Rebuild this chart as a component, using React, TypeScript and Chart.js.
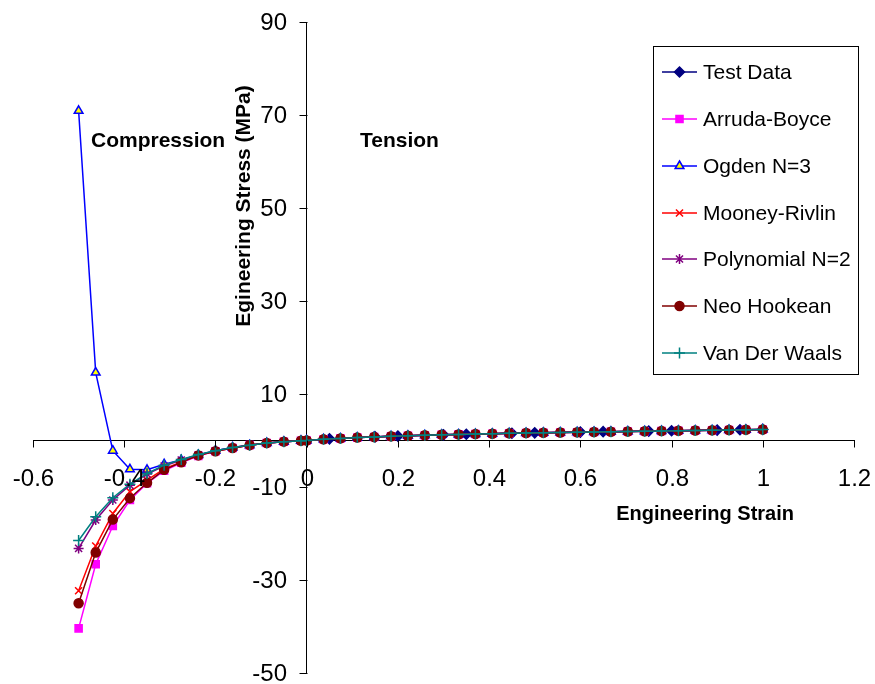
import React, { useEffect, useRef } from 'react';
import { Chart, registerables } from 'chart.js';

Chart.register(...registerables);

// ---------- data ----------
const xTicks = [-0.6, -0.4, -0.2, 0, 0.2, 0.4, 0.6, 0.8, 1.0, 1.2];
const xTickLabels = ['-0.6', '-0.4', '-0.2', '0', '0.2', '0.4', '0.6', '0.8', '1', '1.2'];
const yTicks = [-50, -30, -10, 10, 30, 50, 70, 90];
const yTickLabels = ['-50', '-30', '-10', '10', '30', '50', '70', '90'];

const compStrain = [-0.5, -0.4625, -0.425, -0.3875, -0.35, -0.3125, -0.275, -0.2375, -0.2, -0.1625, -0.125, -0.0875, -0.05, -0.0125];
const tensStrain = [0, 0.037, 0.074, 0.111, 0.148, 0.185, 0.222, 0.259, 0.296, 0.333, 0.37, 0.407, 0.444, 0.481, 0.519, 0.556, 0.593, 0.63, 0.667, 0.704, 0.741, 0.778, 0.815, 0.852, 0.889, 0.926, 0.963, 1.0];
const tensStress = [0, 0.25, 0.45, 0.62, 0.77, 0.9, 1.02, 1.12, 1.22, 1.31, 1.39, 1.47, 1.54, 1.61, 1.67, 1.73, 1.79, 1.84, 1.9, 1.95, 2.0, 2.05, 2.1, 2.15, 2.2, 2.25, 2.3, 2.35];

const testStrain = [0, 0.05, 0.15, 0.2, 0.3, 0.35, 0.45, 0.5, 0.6, 0.65, 0.75, 0.8, 0.9, 0.95, 1.0];
const testStress = [0, 0.35, 0.78, 0.95, 1.22, 1.35, 1.55, 1.64, 1.81, 1.9, 2.02, 2.1, 2.24, 2.3, 2.38];

const arrudaComp = [-40.4, -26.6, -18.4, -12.8, -9.2, -6.5, -4.8, -3.3, -2.3, -1.6, -1.0, -0.55, -0.25, -0.05];
const ogdenComp = [70.9, 14.6, -2.2, -6.2, -6.3, -5.1, -4.2, -3.1, -2.2, -1.5, -1.0, -0.55, -0.25, -0.05];
const mooneyComp = [-32.3, -22.7, -15.7, -11.0, -8.5, -6.1, -4.6, -3.2, -2.3, -1.6, -1.0, -0.55, -0.25, -0.05];
const polyComp = [-23.2, -17.1, -12.8, -9.6, -7.2, -5.5, -4.2, -3.1, -2.2, -1.5, -1.0, -0.55, -0.25, -0.05];
const neoComp = [-35.0, -24.1, -17.0, -12.4, -9.1, -6.3, -4.7, -3.2, -2.3, -1.6, -1.0, -0.55, -0.25, -0.05];
const vdwComp = [-21.5, -16.4, -12.3, -9.4, -7.1, -5.3, -4.1, -3.0, -2.2, -1.5, -1.0, -0.55, -0.25, -0.05];

const seriesNames = ['Test Data', 'Arruda-Boyce', 'Ogden N=3', 'Mooney-Rivlin', 'Polynomial N=2', 'Neo Hookean', 'Van Der Waals'];

const FONT = '"Liberation Sans", Arial, sans-serif';

type Style = { color: string; fill: string; marker: string; radius: number };
const styles: Style[] = [
  { color: '#000080', fill: '#000080', marker: 'rectRot', radius: 5 },
  { color: '#FF00FF', fill: '#FF00FF', marker: 'rect', radius: 5 },
  { color: '#0000FF', fill: '#FFFF00', marker: 'triangle', radius: 5 },
  { color: '#FF0000', fill: '#FF0000', marker: 'crossRot', radius: 5 },
  { color: '#800080', fill: '#800080', marker: 'star', radius: 5 },
  { color: '#800000', fill: '#800000', marker: 'circle', radius: 4.5 },
  { color: '#008080', fill: '#008080', marker: 'cross', radius: 5.5 },
];

function toPoints(xs: number[], ys: number[]) {
  return xs.map((x, i) => ({ x, y: ys[i] }));
}

function drawMarker(ctx: CanvasRenderingContext2D, s: Style, x: number, y: number) {
  const r = s.radius;
  ctx.save();
  ctx.strokeStyle = s.color;
  ctx.fillStyle = s.fill;
  ctx.lineWidth = 1.5;
  ctx.beginPath();
  switch (s.marker) {
    case 'rectRot':
      ctx.moveTo(x, y - r); ctx.lineTo(x + r, y); ctx.lineTo(x, y + r); ctx.lineTo(x - r, y); ctx.closePath();
      ctx.fill(); ctx.stroke();
      break;
    case 'rect': {
      const h = r * Math.SQRT1_2;
      ctx.rect(x - h, y - h, 2 * h, 2 * h); ctx.fill(); ctx.stroke();
      break;
    }
    case 'triangle':
      ctx.moveTo(x, y - r); ctx.lineTo(x + r * 0.87, y + r * 0.5); ctx.lineTo(x - r * 0.87, y + r * 0.5); ctx.closePath();
      ctx.fill(); ctx.stroke();
      break;
    case 'circle':
      ctx.arc(x, y, r, 0, Math.PI * 2); ctx.fill(); ctx.stroke();
      break;
    case 'crossRot': {
      const h = r * Math.SQRT1_2;
      ctx.moveTo(x - h, y - h); ctx.lineTo(x + h, y + h); ctx.moveTo(x + h, y - h); ctx.lineTo(x - h, y + h); ctx.stroke();
      break;
    }
    case 'cross':
      ctx.moveTo(x, y - r); ctx.lineTo(x, y + r); ctx.moveTo(x - r, y); ctx.lineTo(x + r, y); ctx.stroke();
      break;
    case 'star': {
      const h = r * Math.SQRT1_2;
      ctx.moveTo(x, y - r); ctx.lineTo(x, y + r); ctx.moveTo(x - h, y - h); ctx.lineTo(x + h, y + h); ctx.moveTo(x + h, y - h); ctx.lineTo(x - h, y + h);
      ctx.stroke();
      break;
    }
  }
  ctx.restore();
}

// tick marks and tick labels of both crossing axes, placed through the library's scales
const axisLabelPlugin = {
  id: 'axisLabels',
  afterDraw(chart: any) {
    const ctx: CanvasRenderingContext2D = chart.ctx;
    const xs = chart.scales.x;
    const ys = chart.scales.y;
    const ax = Math.round(xs.getPixelForValue(0)) + 0.5;
    const ay = Math.round(ys.getPixelForValue(0)) + 0.5;
    ctx.save();
    ctx.strokeStyle = '#000';
    ctx.lineWidth = 1;
    ctx.fillStyle = '#000';
    ctx.font = `24px ${FONT}`;
    ctx.textAlign = 'right';
    ctx.textBaseline = 'middle';
    yTicks.forEach((v, i) => {
      const py = Math.round(ys.getPixelForValue(v)) + 0.5;
      ctx.beginPath();
      ctx.moveTo(ax - 8, py);
      ctx.lineTo(ax, py);
      ctx.stroke();
      ctx.fillText(yTickLabels[i], ax - 20.5, py + 1);
    });
    ctx.textAlign = 'center';
    xTicks.forEach((v, i) => {
      const px = Math.round(xs.getPixelForValue(v)) + 0.5;
      ctx.beginPath();
      ctx.moveTo(px, ay);
      ctx.lineTo(px, ay + 7);
      ctx.stroke();
      ctx.fillText(xTickLabels[i], px, ay + 39);
    });
    ctx.restore();
  },
};

const annotationPlugin = {
  id: 'annotations',
  afterDraw(chart: any) {
    const ctx: CanvasRenderingContext2D = chart.ctx;
    ctx.save();
    ctx.fillStyle = '#000';
    ctx.font = `bold 21px ${FONT}`;
    ctx.textBaseline = 'middle';
    ctx.textAlign = 'left';
    ctx.fillText('Compression', 91, 141);
    ctx.fillText('Tension', 360, 141);
    ctx.font = `bold 20px ${FONT}`;
    ctx.textAlign = 'right';
    ctx.fillText('Engineering Strain', 794, 514);
    ctx.font = `bold 21px ${FONT}`;
    ctx.save();
    ctx.translate(244, 206);
    ctx.rotate(-Math.PI / 2);
    ctx.textAlign = 'center';
    ctx.fillText('Egineering Stress (MPa)', 0, 0);
    ctx.restore();

    // legend
    const bx = 653.5, by = 46.5, bw = 205, bh = 328;
    ctx.fillStyle = '#fff';
    ctx.fillRect(bx, by, bw, bh);
    ctx.strokeStyle = '#000';
    ctx.lineWidth = 1;
    ctx.strokeRect(bx, by, bw, bh);
    const rowY = [72, 119, 166, 213, 259, 306, 353];
    ctx.font = `21px ${FONT}`;
    ctx.textAlign = 'left';
    ctx.textBaseline = 'middle';
    seriesNames.forEach((name, i) => {
      const s = styles[i];
      const y = rowY[i];
      ctx.strokeStyle = s.color;
      ctx.lineWidth = 1.5;
      ctx.beginPath();
      ctx.moveTo(662, y);
      ctx.lineTo(697, y);
      ctx.stroke();
      drawMarker(ctx, s, 679.5, y);
      ctx.fillStyle = '#000';
      ctx.fillText(name, 703, y + 1);
    });
    ctx.restore();
  },
};

export default function App() {
  const ref = useRef<HTMLCanvasElement>(null);
  useEffect(() => {
    if (!ref.current) return;
    const modelComp = [arrudaComp, ogdenComp, mooneyComp, polyComp, neoComp, vdwComp];
    const datasets: any[] = [];
    seriesNames.forEach((name, i) => {
      const s = styles[i];
      const data = i === 0
        ? toPoints(testStrain, testStress)
        : toPoints([...compStrain, ...tensStrain], [...modelComp[i - 1], ...tensStress]);
      datasets.push({
        label: name,
        data,
        borderColor: s.color,
        backgroundColor: s.fill,
        pointBackgroundColor: s.fill,
        pointBorderColor: s.color,
        pointStyle: s.marker,
        pointRadius: s.radius,
        pointBorderWidth: 1.5,
        borderWidth: 1.5,
        showLine: true,
        tension: 0,
        order: 7 - i,
      });
    });
    const chart = new Chart(ref.current, {
      type: 'scatter',
      data: { datasets },
      options: {
        animation: false,
        responsive: false,
        events: [],
        layout: { padding: { left: 33, right: 21, top: 22, bottom: 11 } },
        plugins: { legend: { display: false }, tooltip: { enabled: false } },
        scales: {
          x: {
            type: 'linear',
            min: -0.6,
            max: 1.2,
            position: { y: 0 } as any,
            afterBuildTicks: (axis: any) => { axis.ticks = xTicks.map((v) => ({ value: v })); },
            grid: { drawOnChartArea: false, drawTicks: false },
            border: { color: '#000', width: 1 },
            ticks: { display: false },
          },
          y: {
            type: 'linear',
            min: -50,
            max: 90,
            position: { x: 0 } as any,
            afterBuildTicks: (axis: any) => { axis.ticks = yTicks.map((v) => ({ value: v })); },
            grid: { drawOnChartArea: false, drawTicks: false },
            border: { color: '#000', width: 1 },
            ticks: { display: false },
          },
        },
      },
      plugins: [axisLabelPlugin, annotationPlugin],
    });
    return () => chart.destroy();
  }, []);
  return (
    <div style={{ position: 'fixed', left: 0, top: 0, width: 875, height: 684, background: '#fff' }}>
      <canvas ref={ref} width={875} height={684} style={{ display: 'block' }} />
    </div>
  );
}
